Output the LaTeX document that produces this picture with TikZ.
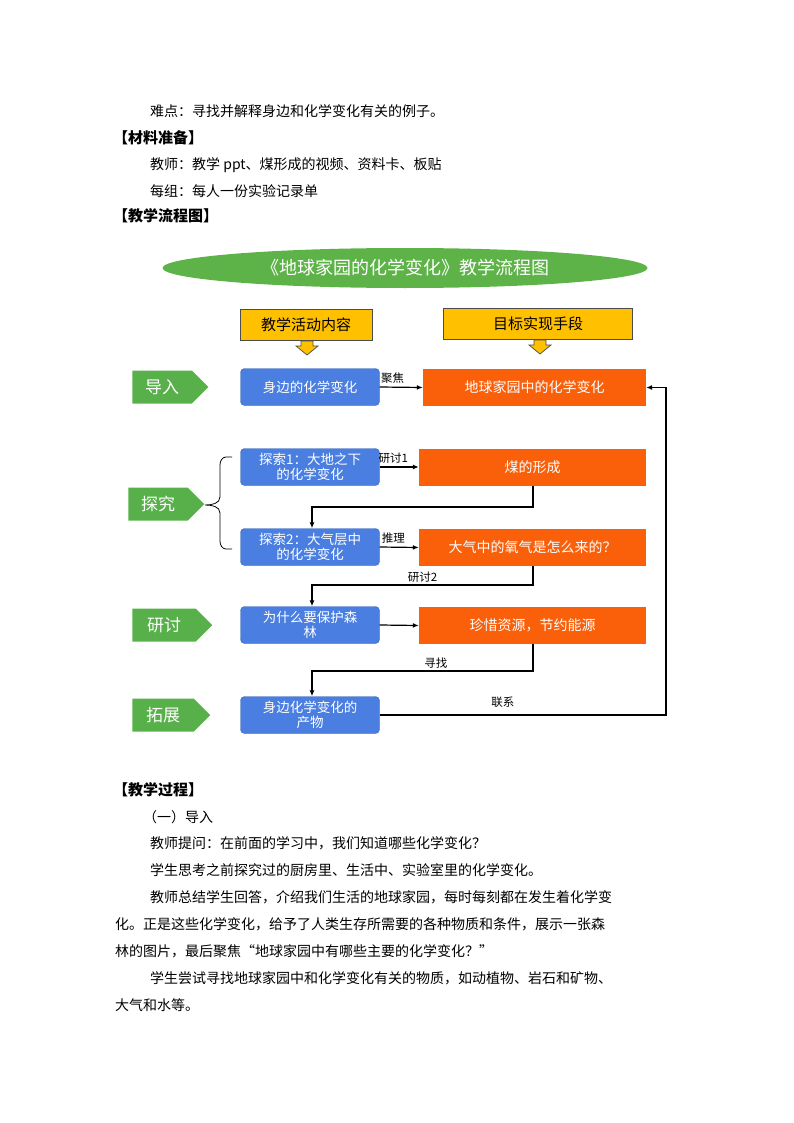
\documentclass[tikz,border=0pt]{standalone}
\usepackage{fontspec}
\setmainfont{Noto Sans CJK SC}
\usetikzlibrary{shapes.symbols,shapes.geometric,arrows.meta}
\definecolor{gEl}{HTML}{5DB347}
\definecolor{gTag}{HTML}{58B04A}
\definecolor{yBox}{HTML}{FFC000}
\definecolor{oBox}{HTML}{FA5F0A}
\definecolor{bBox}{HTML}{4A7EE0}
\tikzset{
 body/.style={anchor=west,inner sep=0pt,font=\fontsize{14}{16}\selectfont},
 head/.style={anchor=west,inner sep=0pt,font=\fontsize{15}{17}\selectfont\bfseries},
 tag/.style={signal,signal to=east,fill=gTag,text=white,minimum width=76pt,minimum height=33pt,inner sep=0pt,font=\fontsize{17}{19}\selectfont},
 bluebox/.style={fill=bBox,draw=bBox!80!black,rounded corners=4pt,text=white,minimum width=139pt,minimum height=37pt,text width=128pt,align=center,inner sep=1pt,font=\fontsize{13.5}{14.5}\selectfont},
 orbox/.style={fill=oBox,text=white,minimum height=37pt,inner sep=1pt,font=\fontsize{14}{16}\selectfont},
 ybox/.style={fill=yBox,draw=black!70,line width=0.8pt,minimum height=31pt,font=\fontsize{15}{17}\selectfont},
 conn/.style={line width=1.2pt,-{Latex[length=6pt,width=5pt]}},
 lbl/.style={font=\fontsize{11.5}{13}\selectfont,inner sep=0pt},
}
\begin{document}
\begin{tikzpicture}[x=1pt,y=-1pt]
\useasboundingbox (0,0) rectangle (793,1123);
\node[body] (t1) at (150,111) {难点：寻找并解释身边和化学变化有关的例子。};
\node[head] (t2) at (113,138) {【材料准备】};
\node[body] (t3) at (150,165) {教师：教学 ppt、煤形成的视频、资料卡、板贴};
\node[body] (t4) at (150,191) {每组：每人一份实验记录单};
\node[head] (t5) at (113,216) {【教学流程图】};

\node[ellipse,fill=gEl,minimum width=485pt,minimum height=40pt,text=white,font=\fontsize{18}{20}\selectfont] (title) at (405,268) {《地球家园的化学变化》教学流程图};
\node[ybox,minimum width=132pt] (y1) at (306,325) {教学活动内容};
\node[ybox,minimum width=189pt] (y2) at (538,324) {目标实现手段};
\draw[fill=yBox,draw=black!70,line width=0.7pt] (301,341)--(313,341)--(313,346)--(318,346)--(307,355)--(296,346)--(301,346)--cycle;
\draw[fill=yBox,draw=black!70,line width=0.7pt] (534,340)--(546,340)--(546,345)--(551,345)--(540,354)--(529,345)--(534,345)--cycle;

\node[tag] (g1) at (162,387) {导入};
\node[tag] (g2) at (158,504) {探究};
\node[tag,minimum width=80pt] (g3) at (164,625) {研讨};
\node[tag,minimum width=78pt] (g4) at (163,715) {拓展};

\node[bluebox] (b1) at (310,387) {身边的化学变化};
\node[bluebox] (b2) at (310,467) {探索1：大地之下\\的化学变化};
\node[bluebox] (b3) at (310,547) {探索2：大气层中\\的化学变化};
\node[bluebox] (b4) at (310,625) {为什么要保护森\\林};
\node[bluebox] (b5) at (310,715) {身边化学变化的\\产物};

\node[orbox,minimum width=223pt] (o1) at (534.5,387.5) {地球家园中的化学变化};
\node[orbox,minimum width=227pt] (o2) at (532.5,467) {煤的形成};
\node[orbox,minimum width=227pt] (o3) at (532.5,547.5) {大气中的氧气是怎么来的？};
\node[orbox,minimum width=227pt] (o4) at (532.5,625.5) {珍惜资源，节约能源};

\draw[conn] (b1.east) -- (o1.west) node[lbl,pos=0.3,above=3pt] {聚焦};
\draw[conn] (b2.east) -- (o2.west) node[lbl,pos=0.35,above=3pt] {研讨1};
\draw[conn] (b3.east) -- (o3.west) node[lbl,pos=0.35,above=3pt] {推理};
\draw[conn] (b4.east) -- (o4.west);
\draw[conn] (o2.south -| 533,0) |- (312,507) -- (b3.north -| 312,0);
\draw[conn] (o3.south -| 533,0) |- (312,585) node[lbl,pos=0.75,above=2pt] {研讨2} -- (b4.north -| 312,0);
\draw[conn] (o4.south -| 533,0) |- (312,671) node[lbl,pos=0.72,above=2pt] {寻找} -- (b5.north -| 312,0);
\coordinate (c1) at (666,715);
\draw[conn] (b5.east) -- (c1) node[lbl,pos=0.43,above=7pt] {联系} |- (o1.east);
\draw[line width=0.8pt] (232,457) -- (226,457) to[out=180,in=90] (220,465) -- (220,497) to[out=-90,in=0] (205,505) to[out=0,in=90] (220,513) -- (220,541) to[out=-90,in=180] (226,549) -- (232,549);

\node[head] (t6) at (113,790) {【教学过程】};
\node[body] (t7) at (143,817) {（一）导入};
\node[body] (t8) at (150,843) {教师提问：在前面的学习中，我们知道哪些化学变化？};
\node[body] (t9) at (150,870) {学生思考之前探究过的厨房里、生活中、实验室里的化学变化。};
\node[body] (t10) at (150,897) {教师总结学生回答，介绍我们生活的地球家园，每时每刻都在发生着化学变};
\node[body] (t11) at (115,924) {化。正是这些化学变化，给予了人类生存所需要的各种物质和条件，展示一张森};
\node[body] (t12) at (115,951) {林的图片，最后聚焦“地球家园中有哪些主要的化学变化？”};
\node[body] (t13) at (150,978) {学生尝试寻找地球家园中和化学变化有关的物质，如动植物、岩石和矿物、};
\node[body] (t14) at (115,1005) {大气和水等。};
\end{tikzpicture}
\end{document}
